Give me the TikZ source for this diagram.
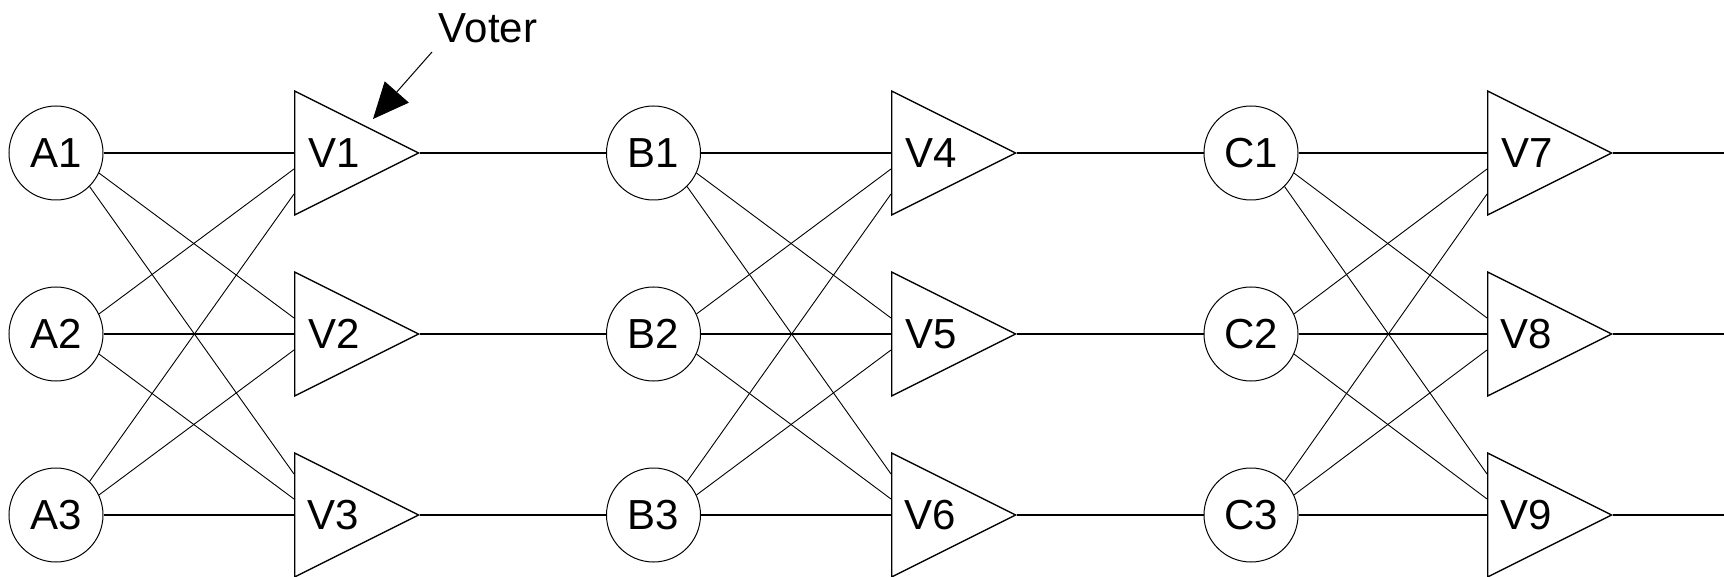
\documentclass[tikz,border=0pt]{standalone}
\usepackage{fontspec}
\setmainfont{Liberation Sans}
\usetikzlibrary{shapes.geometric,arrows.meta}
\begin{document}
\begin{tikzpicture}[x=0.5pt,y=-0.5pt,
  lbl/.style={font=\fontsize{21pt}{25pt}\selectfont},
  unit/.style={lbl, draw, circle, minimum size=47pt, inner sep=0pt, line width=0.5pt},
  voter/.style={lbl, draw, isosceles triangle, isosceles triangle stretches,
    shape border rotate=0, minimum width=62pt, minimum height=62pt,
    inner sep=0pt, line width=0.65pt, anchor=lower side},
  bus/.style={line width=0.85pt},
  cross/.style={line width=0.45pt},
  pointer/.style={line width=0.5pt, -{Triangle[length=18pt,width=16pt]}}
]
\useasboundingbox (0,0) rectangle (1724,577);

% nodes
\foreach \L/\cx/\vx/\k in {A/56/294/0, B/653.5/891/3, C/1251/1487/6} {
  \foreach \r/\y in {1/153, 2/334, 3/515} {
    \pgfmathtruncatemacro\n{\k+\r}
    \node[unit] (\L\r) at (\cx,\y) {\L\r};
    \node[voter] (V\n) at (\vx,\y) {V\n};
  }
}
\coordinate (o7) at (1724,153);
\coordinate (o8) at (1724,334);
\coordinate (o9) at (1724,515);

% label and pointer
\node[lbl] (voterlbl) at (488,28) {Voter};
\coordinate (vtail) at (432,52);
\coordinate (vtip) at (373,119);
\draw[pointer] (vtail) -- (vtip);

% connections inside each stage
\foreach \L/\k in {A/0, B/3, C/6} {
  \pgfmathtruncatemacro\a{\k+1}
  \pgfmathtruncatemacro\b{\k+2}
  \pgfmathtruncatemacro\c{\k+3}
  \draw[bus] (\L1) -- (V\a.lower side);
  \draw[bus] (\L2) -- (V\b.lower side);
  \draw[bus] (\L3) -- (V\c.lower side);
  \draw[cross] (\L1.-25) -- ([yshift=8pt]V\b.lower side);
  \draw[cross] (\L1.-45) -- ([yshift=20.5pt]V\c.lower side);
  \draw[cross] (\L2.25) -- ([yshift=-8pt]V\a.lower side);
  \draw[cross] (\L2.-25) -- ([yshift=8pt]V\c.lower side);
  \draw[cross] (\L3.45) -- ([yshift=-20.5pt]V\a.lower side);
  \draw[cross] (\L3.25) -- ([yshift=-8pt]V\b.lower side);
}

% links between stages
\draw[bus] (V1.apex) -- (B1);
\draw[bus] (V2.apex) -- (B2);
\draw[bus] (V3.apex) -- (B3);
\draw[bus] (V4.apex) -- (C1);
\draw[bus] (V5.apex) -- (C2);
\draw[bus] (V6.apex) -- (C3);
\draw[bus] (V7.apex) -- (o7);
\draw[bus] (V8.apex) -- (o8);
\draw[bus] (V9.apex) -- (o9);
\end{tikzpicture}
\end{document}
